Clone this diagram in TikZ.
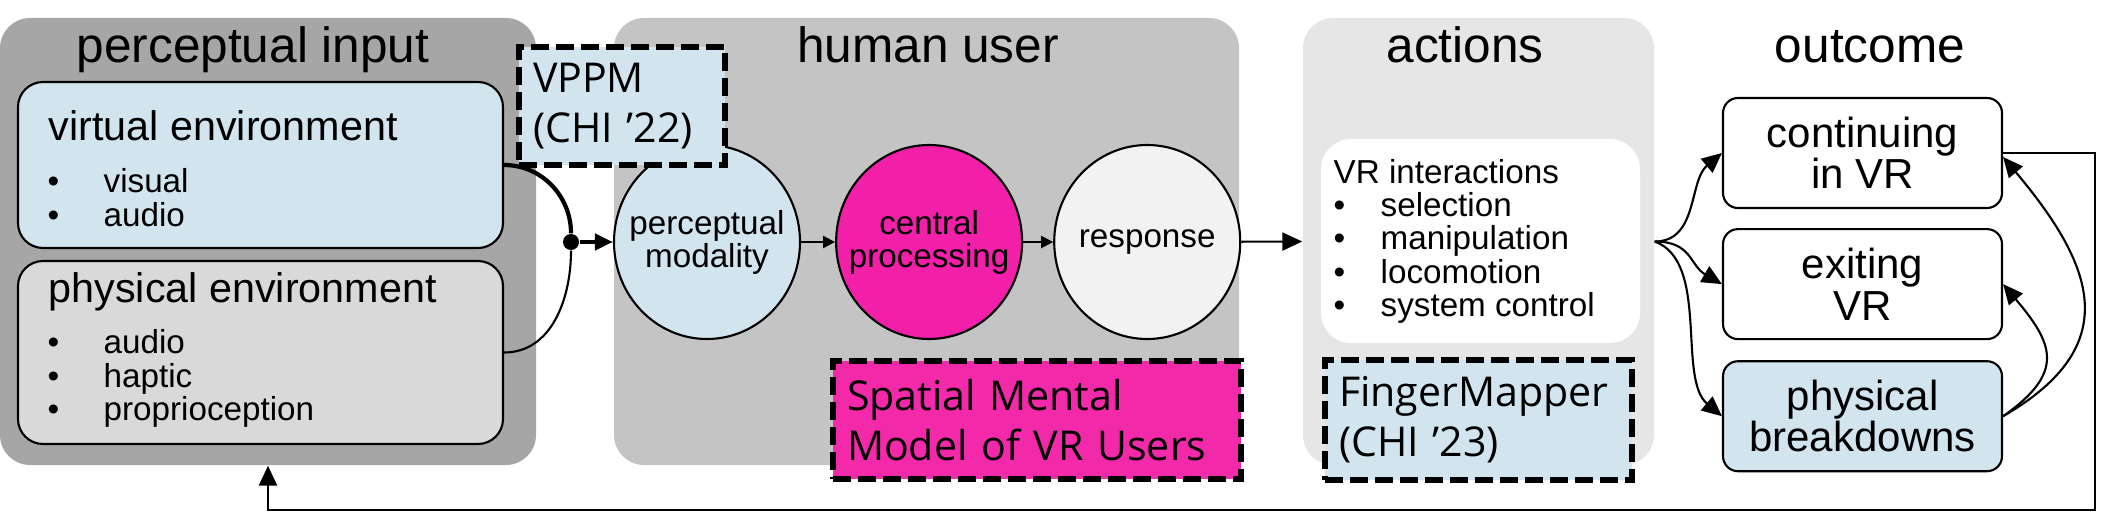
\documentclass[tikz,border=0pt]{standalone}
\usepackage{fontspec}
\setmainfont{Liberation Sans}
\newfontfamily\pubfont{Open Sans}
\usetikzlibrary{positioning}
\usetikzlibrary{shapes.geometric}
\usetikzlibrary{arrows.meta}

\definecolor{ingray}{HTML}{A6A6A6}
\definecolor{usergray}{HTML}{C4C4C4}
\definecolor{actgray}{HTML}{E6E6E6}
\definecolor{envgray}{HTML}{D9D9D9}
\definecolor{paleblue}{HTML}{D2E5EE}
\definecolor{hotpink}{HTML}{F21FA8}
\definecolor{boxpink}{HTML}{F22AAA}
\definecolor{respgray}{HTML}{F2F2F2}

\newcommand\bul[1]{\makebox[#1][l]{\textbullet}}

\begin{document}
\begin{tikzpicture}
  \tikzstyle{group}=[
      rectangle, rounded corners = 3mm, inner sep = 0pt
    , minimum height = 44.7mm
    ]
  \tikzstyle{title}=[anchor = base, inner sep = 0pt, font = \fontsize{14.1}{17}\selectfont]
  \tikzstyle{env}=[
      rectangle, rounded corners = 2.5mm, line width = 0.6pt
    , draw = black, minimum width = 48.5mm
    ]
  \tikzstyle{envtitle}=[anchor = base west, inner sep = 0pt, font = \fontsize{11.75}{14}\selectfont]
  \tikzstyle{list}=[
      anchor = north west, inner sep = 0pt, align = left
    , font = \fontsize{9.45}{9.5}\selectfont
    ]
  \tikzstyle{stage}=[
      ellipse, draw = black, line width = 0.6pt
    , minimum width = 18.6mm, minimum height = 19.4mm
    , inner xsep = -2mm, inner ysep = 0pt, align = center
    , font = \fontsize{9.45}{9.4}\selectfont
    ]
  \tikzstyle{paper}=[
      rectangle, draw = black, line width = 1.8pt
    , dash pattern = on 1.8mm off 0.7mm
    , inner xsep = 1.4mm, align = left
    , font = \fontsize{11.7}{14.2}\pubfont
    ]
  \tikzstyle{result}=[
      rectangle, rounded corners = 1.5mm, draw = black, line width = 0.6pt
    , minimum width = 27.9mm, minimum height = 11mm, align = center
    , font = \fontsize{11.95}{11.8}\selectfont
    ]
  \tikzstyle{junction}=[circle, fill = black, minimum size = 1.6mm, inner sep = 0pt]
  \tikzstyle{connect}=[-{Triangle[length = 2mm, width = 1.8mm]}, line width = 0.6pt]
  \tikzstyle{small connect}=[-{Triangle[length = 1.2mm, width = 1.2mm]}, line width = 0.6pt]
  \tikzstyle{thick connect}=[-{Triangle[length = 1.8mm, width = 1.6mm]}, line width = 1.2pt]

  \useasboundingbox (0,0) rectangle (21.08,5.22);

  % groups
  \node[group, fill = ingray, minimum width = 53.6mm] (inbox) at (2.68,2.805) {};
  \node[group, fill = usergray, minimum width = 62.5mm] (userbox) at (9.265,2.805) {};
  \node[group, fill = actgray, minimum width = 35.1mm] (actbox) at (14.785,2.805) {};

  \node[title] (intitle) at (2.53,4.59) {perceptual input};
  \node[title] (usertitle) at (9.28,4.59) {human user};
  \node[title] (acttitle) at (14.65,4.59) {actions};
  \node[title] (outtitle) at (18.70,4.59) {outcome};

  % perceptual input
  \node[env, fill = paleblue, minimum height = 16.6mm] (venv) at (2.605,3.57) {};
  \node[env, fill = envgray, minimum height = 18.3mm] (penv) at (2.605,1.695) {};
  \node[envtitle] (venvtitle) at (0.48,3.82) {virtual environment};
  \node[list] (venvlist) at (0.47,3.54)
    {\bul{5.6mm}visual\\\bul{5.6mm}audio};
  \node[envtitle] (penvtitle) at (0.48,2.20) {physical environment};
  \node[list] (penvlist) at (0.47,1.93)
    {\bul{5.6mm}audio\\\bul{5.6mm}haptic\\\bul{5.6mm}proprioception};

  % human user
  \node[stage, fill = paleblue] (percmod) at (7.07,2.80) {perceptual\\modality};
  \node[stage, fill = hotpink, right = 0.34 of percmod] (central) {central\\processing};
  \node[stage, fill = respgray, right = 0.30 of central] (response) {response};

  \node[paper, fill = paleblue, minimum width = 20.6mm, minimum height = 11.8mm,
        text width = 17.8mm] (vppm) at (6.22,4.16) {VPPM\\(CHI ’22)};
  \node[paper, fill = boxpink, minimum width = 40.8mm, minimum height = 11.8mm,
        text width = 38mm] (smm) at (10.37,1.02) {Spatial Mental\\Model of VR Users};

  % actions
  \node[rectangle, rounded corners = 3mm, fill = white, minimum width = 31.9mm,
        minimum height = 20.4mm] (vrbox) at (14.805,2.81) {};
  \node[list] (vrlist) at (13.33,3.636)
    {VR interactions\\\bul{4.7mm}selection\\\bul{4.7mm}manipulation\\
     \bul{4.7mm}locomotion\\\bul{4.7mm}system control};
  \node[paper, fill = paleblue, minimum width = 30.7mm, minimum height = 12mm,
        text width = 27.9mm] (fmapper) at (14.785,1.02) {FingerMapper\\(CHI ’23)};

  % outcome
  \node[result, fill = white] (cont) at (18.625,3.69) {continuing\\in VR};
  \node[result, fill = white, below = 0.19 of cont] (exit) {exiting\\VR};
  \node[result, fill = paleblue, below = 0.20 of exit] (phys) {physical\\breakdowns};

  % connectors
  \node[junction] (junc) at (5.71,2.80) {};
  \path (venv.east) edge [line width = 1.2pt, out = 0, in = 90] (junc);
  \path (penv.east) edge [line width = 0.6pt, out = 0, in = -90] (junc);
  \path (junc) edge [thick connect] (percmod);
  \path (percmod) edge [small connect] (central);
  \path (central) edge [small connect] (response);
  \path (response) edge [connect] (actbox.west);

  \path (actbox.east) edge [connect, out = 0, in = 220] (cont.west);
  \path (actbox.east) edge [connect, out = 0, in = 150, looseness = 1.2] (exit.west);
  \path (actbox.east) edge [connect, out = -20, in = 140, looseness = 0.8] (phys.west);

  \path (phys.east) edge [connect, out = 30, in = -50, looseness = 1.4] ([yshift = -0.4mm]cont.east);
  \path (phys.east) edge [connect, out = 35, in = -50, looseness = 1.5] (exit.east);

  \coordinate (fbcorner) at (20.95,0.12);
  \draw [connect, line width = 0.75pt] (cont.east) -| (fbcorner) -| (inbox.south);

\end{tikzpicture}
\end{document}
